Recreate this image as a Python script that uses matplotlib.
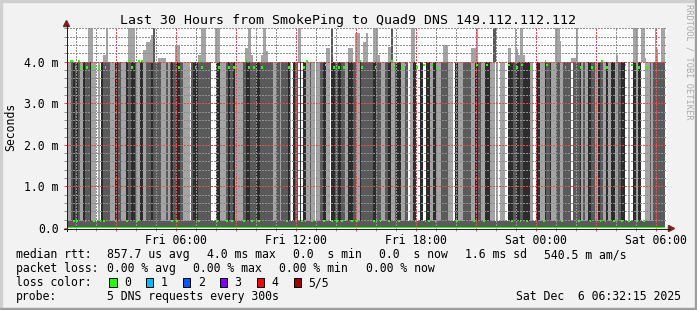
import numpy as np
import matplotlib
matplotlib.use('Agg')
import matplotlib.pyplot as plt
from matplotlib.lines import Line2D
from matplotlib.patches import Polygon, Rectangle

W, H = 697, 310
plt.rcParams['font.family'] = ['DejaVu Sans Mono']

TITLE = 'Last 30 Hours from SmokePing to Quad9 DNS 149.112.112.112'

# smoke shade of every 5 minute step: 0 white, 1 light, 2 mid, 3 dark
# first step starts Fri 00:35, one string per 5 hours
SMOKE_BLOCKS = [
    '112323211322231110103222211133221113223321133112223222221112',
    '123223322111102333222222220003311112322311111223322223322222',
    '222112212222310322030331121101122331103322332211333221132222',
    '222332221122331123331122011330033003311331112222111033111222',
    '221133221133311101011100333223322333311003311132231112211222',
    '2202222312113322113221131133112233001003313300111212222222',
]
FIRST_STEP_H = 35 / 60
STEP_H = 5 / 60
LOW_MS = 0.17
HIGH_MS = 4.0

# slowest ping above 4 ms (step index, ms)
SPIKE_STEPS = [12, 13, 14, 21, 22, 23, 36, 37, 38, 39,
               45, 46, 47, 48, 49, 50, 54, 55, 56, 57, 58,
               64, 65, 66, 78, 79, 80, 81, 82, 88, 89, 90,
               106, 107, 108, 109, 110, 116, 117, 118, 119, 138, 139,
               155, 156, 168, 169, 170, 172, 173, 174, 177, 178, 179,
               183, 184, 185, 186, 192, 193, 206, 207, 225, 226, 227,
               242, 243, 244, 245, 264, 265, 268, 269, 270, 271, 272, 273,
               292, 293, 294, 295, 302, 303, 304, 305, 329,
               339, 340, 341, 344, 345, 346, 352, 353, 356, 357]
SPIKE_MS = [4.8, 4.8, 4.8, 4.16, 4.16, 4.8, 4.8, 4.8, 4.8, 4.8,
            4.28, 4.28, 4.48, 4.48, 4.52, 4.64, 4.1, 4.1, 4.1, 4.1, 4.1,
            4.4, 4.4, 4.4, 4.16, 4.16, 4.8, 4.8, 4.8, 4.8, 4.8, 4.8,
            4.32, 4.32, 4.8, 4.8, 4.16, 4.16, 4.8, 4.8, 4.25, 4.8, 4.8,
            4.32, 4.32, 4.32, 4.32, 4.32, 4.7, 4.7, 4.7, 4.48, 4.48, 4.7,
            4.8, 4.8, 4.8, 4.16, 4.35, 4.35, 4.8, 4.8, 4.4, 4.4, 4.4,
            4.32, 4.32, 4.32, 4.8, 4.32, 4.32, 4.8, 4.3, 4.16, 4.8, 4.8, 4.16,
            4.8, 4.8, 4.8, 4.5, 4.08, 4.08, 4.08, 4.8, 4.16,
            4.8, 4.8, 4.8, 4.8, 4.8, 4.08, 4.8, 4.3, 4.8, 4.8]
DARK_SPIKE_STEPS = [51, 158, 194, 255, 256]

# median rtt markers by level
MEDIAN_017 = [3, 5, 10, 15, 19, 21, 28, 35, 41,
              62, 65, 78, 89, 95, 98, 105, 110, 114,
              131, 140, 142, 146, 153, 158, 161, 164, 170, 173,
              183, 187, 192, 198, 208, 214, 216, 220, 233,
              243, 249, 266, 271, 275, 285, 296,
              306, 313, 319, 322, 327, 332, 336, 341, 345]
MEDIAN_385 = [4, 7, 11, 14, 18, 22, 38, 66, 76, 80, 90, 96, 99, 108, 111, 116,
              132, 141, 159, 162, 165, 176, 184, 195, 200, 209, 221,
              269, 277, 298, 307, 314, 316, 323, 328, 342, 347]
MEDIAN_392 = [154, 202, 213, 218, 245, 251, 264, 272, 287, 334, 338]
MEDIAN_400 = [1, 2, 6, 36, 42, 44, 79, 107, 143, 175, 194, 268, 286, 320]

MEDIAN_STATS = ['857.7 us avg', '4.0 ms max', '0.0  s min', '0.0  s now',
                '1.6 ms sd', '540.5 m am/s']
LOSS_STATS = ['0.00 % avg', '0.00 % max', '0.00 % min', '0.00 % now']
LOSS_LABELS = ['0', '1', '2', '3', '4', '5/5']
LOSS_COLORS = ['#26ff00', '#00b8ff', '#0059ff', '#7e00ff', '#ff0000', '#a00000']
X_TICKS = [3, 6, 9, 12, 15, 18, 21, 24, 27, 30]
X_LABELS = ['', 'Fri 06:00', '', 'Fri 12:00', '', 'Fri 18:00', '',
            'Sat 00:00', '', 'Sat 06:00']
Y_LABELS = ['0.0', '1.0 m', '2.0 m', '3.0 m', '4.0 m']

BACK = '#f2f2f2'
LIGHT = '#a4a4a4'
MID = '#5a5a5a'
DARK = '#2c2c2c'
GREEN = LOSS_COLORS[0]
GRID = (0.56, 0.56, 0.56, 0.35)
MGRID = (0.87, 0.31, 0.31, 0.35)
ARROW = '#801f1f'
AXIS = '#1f1f1f'
FS = 8.3


def fx(x):
    return x / W


def fy(y):
    return 1 - y / H


shade = np.array([int(c) for c in ''.join(SMOKE_BLOCKS)])
t = FIRST_STEP_H + np.arange(len(shade)) * STEP_H

fig = plt.figure(figsize=(W / 100, H / 100), dpi=100, facecolor=BACK)
ax = fig.add_axes([fx(67), fy(228), 600 / W, 200.5 / H])
ax.set_facecolor('white')
ax.set_xlim(0.5375, 30.5375)
ax.set_ylim(0, 200.5 / 41.575)

bar = dict(width=STEP_H, align='edge', linewidth=0, antialiased=False)
ax.bar(t, LOW_MS, color=MID, **bar)
for code, col in ((1, LIGHT), (2, MID), (3, DARK)):
    sel = shade == code
    ax.bar(t[sel], HIGH_MS - LOW_MS, bottom=LOW_MS, color=col, **bar)

steps, tops = zip(*zip(SPIKE_STEPS, SPIKE_MS))
ax.bar(t[list(steps)], np.array(tops) - HIGH_MS, bottom=HIGH_MS,
       color=LIGHT, **bar)
ax.bar(t[DARK_SPIKE_STEPS], 0.82, bottom=HIGH_MS, color=MID, **bar)

# median markers
ax.bar(t, 0.025, bottom=0, color=GREEN, zorder=3, **bar)
for steps, level in ((MEDIAN_017, 0.17), (MEDIAN_385, 3.86),
                     (MEDIAN_392, 3.93), (MEDIAN_400, 4.01)):
    ax.bar(t[steps], 0.05, bottom=level - 0.025, color=GREEN, zorder=3, **bar)

ax.set_xticks(X_TICKS)
ax.set_xticklabels(X_LABELS)
ax.set_xticks(np.arange(1, 31), minor=True)
ax.set_yticks(range(5))
ax.set_yticklabels(Y_LABELS)
ax.set_yticks(np.arange(0.2, 4.81, 0.2), minor=True)
ax.set_axisbelow(False)
ax.grid(True, which='minor', color=GRID, linestyle=(0, (1.4, 1.4)),
        linewidth=0.72, antialiased=False)
ax.grid(True, which='major', color=MGRID, linestyle=(0, (1.4, 1.4)),
        linewidth=0.72, antialiased=False)
ax.tick_params(which='both', direction='out', length=2, width=0.72,
               labelsize=FS)
ax.tick_params(which='minor', color=(0.56, 0.56, 0.56))
ax.tick_params(which='major', color=(0.87, 0.31, 0.31))
ax.tick_params(axis='x', pad=2.2)
ax.tick_params(axis='y', pad=4)
for s in ax.spines.values():
    s.set_visible(False)

# axis lines and arrows
fig.add_artist(Line2D([fx(64), fx(670)], [fy(228.5)] * 2, color=AXIS, lw=0.72))
fig.add_artist(Line2D([fx(66.5)] * 2, [fy(231), fy(25)], color=AXIS, lw=0.72))
fig.add_artist(Polygon([(fx(63.5), fy(26.5)), (fx(69.5), fy(26.5)),
                        (fx(66.5), fy(20.5))], closed=True, color=ARROW,
                       transform=fig.transFigure))
fig.add_artist(Polygon([(fx(668.5), fy(225.5)), (fx(668.5), fy(231.5)),
                        (fx(674.5), fy(228.5))], closed=True, color=ARROW,
                       transform=fig.transFigure))

# frame shading
for x0, y0, w, h, col in ((0, 0, 2, H, '#cfcfcf'), (0, 0, W, 2, '#cfcfcf'),
                          (W - 2, 0, 2, H, '#9e9e9e'), (0, H - 2, W, 2, '#9e9e9e')):
    fig.add_artist(Rectangle((fx(x0), fy(y0 + h)), w / W, h / H, color=col,
                             transform=fig.transFigure))

fig.text(fx(348), fy(24), TITLE, ha='center', va='baseline', fontsize=9.5)
fig.text(fx(10.5), fy(127), 'Seconds', rotation=90, ha='center', va='center',
         fontsize=FS)
fig.text(fx(688.5), fy(62), 'RRDTOOL / TOBI OETIKER', rotation=270,
         ha='center', va='center', fontsize=6.2, color='#aaaaaa')


def legend(x, y, s, **kw):
    fig.text(fx(x), fy(y), s, fontsize=FS, va='baseline', **kw)


legend(16, 258, 'median rtt:')
for x, s in zip([107, 207, 293, 379, 465, 544], MEDIAN_STATS):
    legend(x, 258, s)
legend(16, 272, 'packet loss:')
for x, s in zip([107, 193.3, 279.3, 365.7], LOSS_STATS):
    legend(x, 272, s)
legend(16, 286, 'loss color:')
for i, (lab, col) in enumerate(zip(LOSS_LABELS, LOSS_COLORS)):
    bx = 109 + 36.9 * i
    fig.add_artist(Rectangle((fx(bx), fy(286.5)), 7.5 / W, 9 / H,
                             facecolor=col, edgecolor='black', lw=0.72,
                             transform=fig.transFigure))
    legend(bx + 15, 286, lab)
legend(16, 300, 'probe:')
legend(107, 300, '5 DNS requests every 300s')
legend(680.5, 300, 'Sat Dec  6 06:32:15 2025', ha='right')

fig.savefig('out.png', dpi=100, facecolor=BACK)
